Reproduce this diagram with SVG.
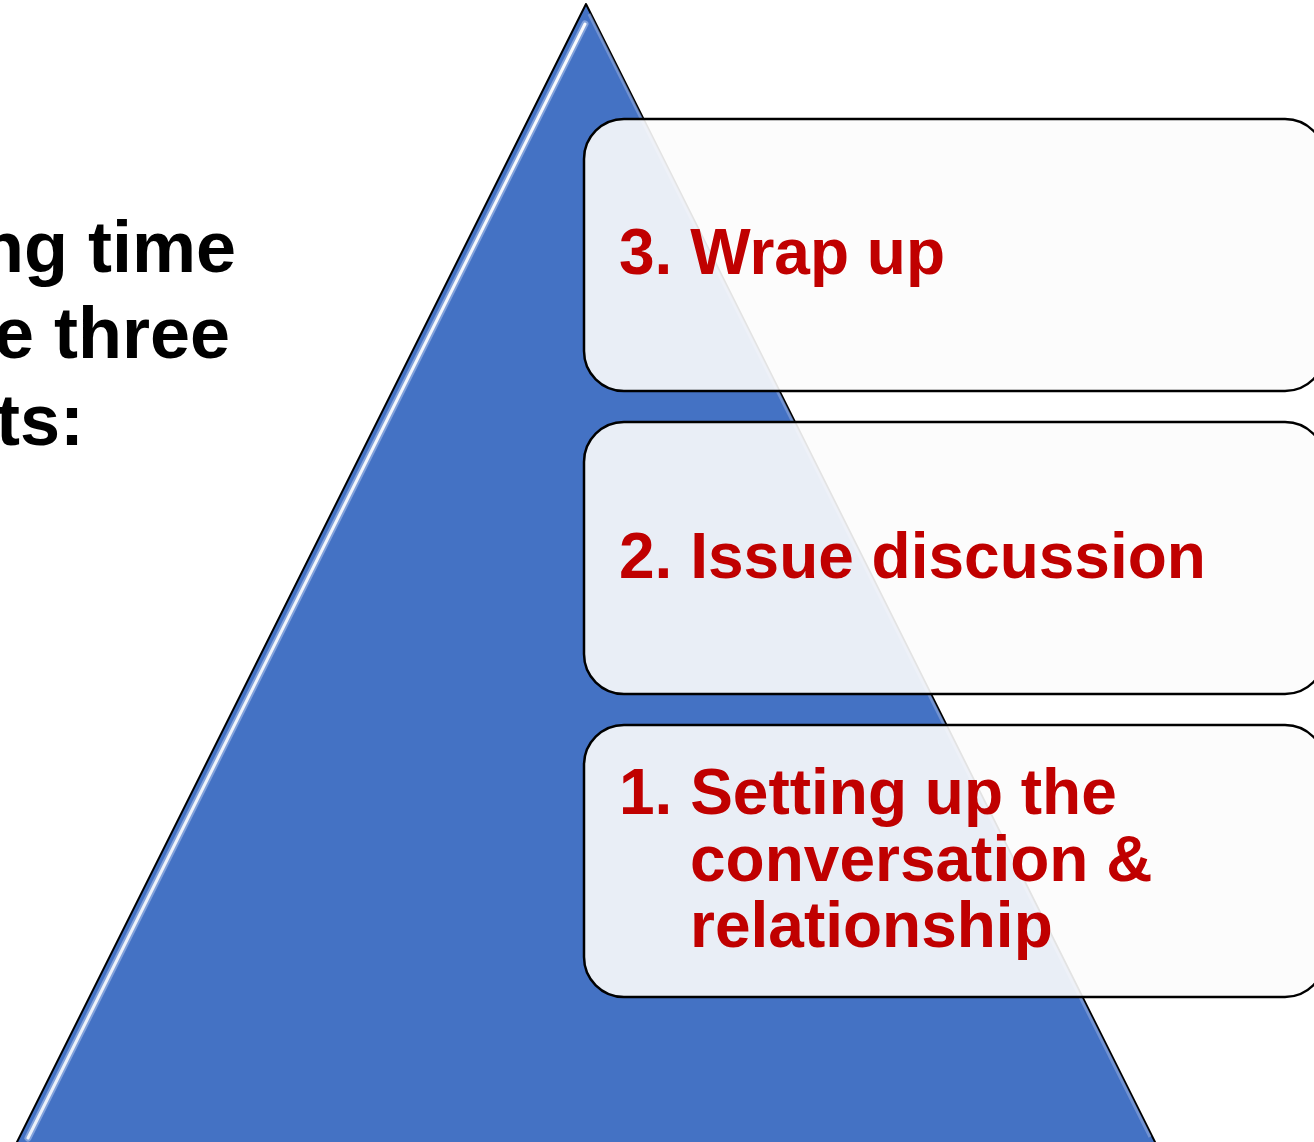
<svg xmlns="http://www.w3.org/2000/svg" width="1314" height="1142" viewBox="0 0 1314 1142">
  <style>
    .title { font-family: "Liberation Sans", Arial, sans-serif; font-weight: bold; font-size: 72px; fill: #000000; }
    .lbl { font-family: "Liberation Sans", Arial, sans-serif; font-weight: bold; font-size: 64px; fill: #c00000; }
    .box { fill: #fcfcfc; fill-opacity: 0.9; stroke: #000000; stroke-width: 2.5; }
  </style>
  <defs>
    <linearGradient id="hl" x1="0" y1="0" x2="0" y2="1">
      <stop offset="0" stop-color="#ffffff" stop-opacity="0.95"/>
      <stop offset="1" stop-color="#ffffff" stop-opacity="0.85"/>
    </linearGradient>
  </defs>
  <rect width="1314" height="1142" fill="#ffffff"/>

  <g id="title-text">
    <text class="title" x="236" y="272" text-anchor="end">ng time</text>
    <text class="title" x="230" y="358" text-anchor="end">e three</text>
    <text class="title" x="84" y="445" text-anchor="end">ts:</text>
  </g>

  <g id="pyramid">
    <polygon points="586,4 14,1148 1158,1148" fill="#4472c4" stroke="#000000" stroke-width="2" stroke-linejoin="round"/>
    <line x1="585" y1="24" x2="28" y2="1138" stroke="#9db6e6" stroke-width="7" stroke-opacity="0.7" stroke-linecap="round"/>
    <line x1="585" y1="24" x2="28" y2="1138" stroke="url(#hl)" stroke-width="3" stroke-linecap="round"/>
    <line x1="589" y1="14" x2="1150" y2="1137" stroke="#8fa9dc" stroke-width="3" stroke-opacity="0.6"/>
  </g>

  <g id="step3">
    <rect class="box" x="584" y="119" width="741" height="272" rx="40" ry="40"/>
    <text class="lbl" x="619" y="274">3. Wrap up</text>
  </g>

  <g id="step2">
    <rect class="box" x="584" y="422" width="741" height="272" rx="40" ry="40"/>
    <text class="lbl" x="619" y="578">2. Issue discussion</text>
  </g>

  <g id="step1">
    <rect class="box" x="584" y="725" width="741" height="272" rx="40" ry="40"/>
    <text class="lbl" x="619" y="814">1. Setting up the</text>
    <text class="lbl" x="690" y="881">conversation &amp;</text>
    <text class="lbl" x="690" y="947">relationship</text>
  </g>

  <g id="connectors"/>
</svg>
